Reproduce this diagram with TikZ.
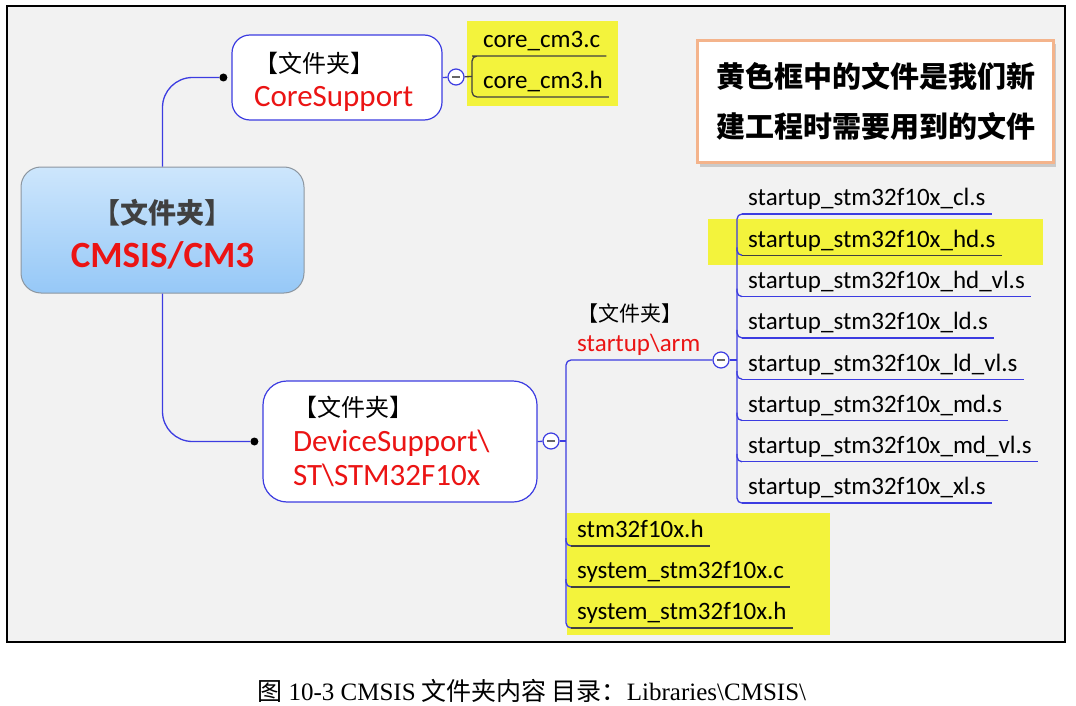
\documentclass[tikz,border=0pt]{standalone}
\usepackage{fontspec}
\setmainfont{Carlito}
\newfontfamily\cjkfont{Noto Sans CJK SC}
\newfontfamily\capfont{Liberation Serif}
\usetikzlibrary{positioning, calc, shadows}
\definecolor{mapblue}{RGB}{60, 60, 225}
\definecolor{mapred}{RGB}{235, 20, 20}
\definecolor{markyellow}{RGB}{243, 243, 60}
\definecolor{rootbottom}{RGB}{150, 200, 247}
\definecolor{roottop}{RGB}{205, 230, 252}
\definecolor{rootedge}{RGB}{140, 150, 160}
\definecolor{notepeach}{RGB}{244, 180, 140}
\definecolor{paper}{RGB}{242, 242, 242}

\begin{document}
\begin{tikzpicture}[x=1pt, y=-1pt,
  conn/.style={draw=mapblue, line width=1.3pt},
  darkconn/.style={draw=black!75, line width=1.3pt},
  folder/.style={draw=mapblue, line width=1.2pt, fill=white, align=left, inner ysep=0pt},
  fileitem/.style={anchor=south west, inner xsep=6pt, inner ysep=2pt, text height=19pt, text depth=6pt, font=\fontsize{25}{30}\selectfont},
  fold/.style={circle, draw=mapblue, line width=1.2pt, fill=white, minimum size=16pt, inner sep=0pt,
    path picture={\draw[black!60, line width=1.2pt] ([xshift=-4pt]path picture bounding box.center) -- ([xshift=4pt]path picture bounding box.center);}},
  knot/.style={circle, fill=black, minimum size=8pt, inner sep=0pt}
]
  \useasboundingbox (0,0) rectangle (1076,706);
  \fill[white] (0,0) rectangle (1076,706);
  \draw[line width=2.5pt, fill=paper] (7,6) rectangle (1065,642);

  % Yellow marks
  \fill[markyellow] (467,21) rectangle (618,106);
  \fill[markyellow] (708,219) rectangle (1043,265);
  \fill[markyellow] (567,513) rectangle (830,635);

  % Root
  \node[draw=rootedge, line width=1pt, top color=roottop, bottom color=rootbottom, rounded corners=20pt,
        minimum width=283pt, minimum height=126pt, align=center, font=\fontsize{37}{39}\selectfont\bfseries]
    (root) at (162.5,230) {\rule{0pt}{32pt}{\cjkfont\fontsize{28}{39}\selectfont\color{black!75}【文件夹】}\\[5pt]\textcolor{mapred}{CMSIS/CM3}};

  % Folder nodes
  \node[folder, rounded corners=18pt, text width=166pt, inner xsep=22pt, minimum height=85pt, font=\fontsize{31}{34}\selectfont]
    (core) at (337,77.5) {\rule{0pt}{29pt}{\cjkfont\fontsize{24}{34}\selectfont 【文件夹】}\\\textcolor{mapred}{CoreSupport}};
  \node[folder, rounded corners=24pt, text width=214pt, inner xsep=30pt, minimum height=121pt, font=\fontsize{31}{34.5}\selectfont]
    (dev) at (400,441.5) {{\cjkfont\fontsize{24}{34.5}\selectfont 【文件夹】}\\\textcolor{mapred}{DeviceSupport\textbackslash}\\\textcolor{mapred}{ST\textbackslash STM32F10x}};

  \node[knot] (coreknot) at ([xshift=-8pt]core.west) {};
  \node[knot] (devknot) at ([xshift=-8pt]dev.west) {};
  \draw[conn, rounded corners=30pt] (root.north) |- (coreknot);
  \draw[conn, rounded corners=30pt] (root.south) |- (devknot);

  % Note
  \node[draw=notepeach, line width=3pt, fill=white, drop shadow={opacity=0.35, shadow xshift=2pt, shadow yshift=-4pt},
        minimum width=356pt, minimum height=122pt, align=center, font=\cjkfont\bfseries\fontsize{29}{50}\selectfont]
    (note) at (875.5,101.5) {黄色框中的文件是我们新\\建工程时需要用到的文件};

  % CoreSupport files
  \node[fileitem] (c3c) at (477,56) {core\_cm3.c};
  \node[fileitem] (c3h) at (477,97) {core\_cm3.h};
  \node[fold] (corefold) at (456,77) {};
  \coordinate (corespine) at ($(c3c.south west)!0.5!(c3h.south west)+(-5,0)$);
  \draw[conn] (core.east) -- (corefold);
  \draw[darkconn] (corefold) -- (corespine);
  \draw[darkconn, rounded corners=5pt] (c3c.south east) -- (c3c.south west) -| ($(c3h.south west)+(-5,0)$) -- (c3h.south east);

  % DeviceSupport files
  \node[fileitem] (stmh) at (571,546) {stm32f10x.h};
  \node[fileitem] (sysc) at (571,587) {system\_stm32f10x.c};
  \node[fileitem] (sysh) at (571,628) {system\_stm32f10x.h};
  \node[fileitem, align=left, text height=, text depth=, font=\fontsize{25}{30}\selectfont]
    (arm) at (571,358) {{\cjkfont\fontsize{21}{30}\selectfont 【文件夹】}\\\textcolor{mapred}{startup\textbackslash arm}};
  \node[fold] (devfold) at (551,441) {};
  \node[fold] (armfold) at (721,360) {};
  \coordinate (devspine) at ($(devfold -| sysh.south west)+(-5,0)$);
  \draw[conn] (dev.east) -- (devfold);
  \draw[conn] (devfold) -- (devspine);
  \draw[conn, rounded corners=5pt] (armfold.west) -| ($(sysh.south west)+(-5,0)$) -- (sysh.south west);
  \foreach \nm in {stmh, sysc}
    \draw[conn, rounded corners=5pt] ($(\nm.south west)+(-5,-8)$) |- (\nm.south west);
  \foreach \nm in {stmh, sysc, sysh}
    \draw[darkconn] (\nm.south west) -- (\nm.south east);

  % startup files
  \foreach \nm/\txt [count=\i from 0] in {cl/cl, hd/hd, hdvl/hd\_vl, ld/ld, ldvl/ld\_vl, md/md, mdvl/md\_vl, xl/xl}
    \node[fileitem] (\nm) at (742,214+41.3*\i) {startup\_stm32f10x\_\txt.s};
  \coordinate (armspine) at ($(armfold -| cl.south west)+(-5,0)$);
  \draw[conn] (armfold) -- (armspine);
  \draw[conn, rounded corners=5pt] (cl.south west) -| ($(xl.south west)+(-5,0)$) -- (xl.south west);
  \foreach \nm in {hd, hdvl, ld, ldvl, md, mdvl}
    \draw[conn, rounded corners=5pt] ($(\nm.south west)+(-5,-8)$) |- (\nm.south west);
  \foreach \nm in {cl, hdvl, ld, ldvl, md, mdvl, xl}
    \draw[conn] (\nm.south west) -- (\nm.south east);
  \draw[darkconn] (hd.south west) -- (hd.south east);

  % Caption
  \node[font=\fontsize{25}{30}\selectfont] (caption) at (532,691)
    {{\cjkfont 图} {\capfont 10-3 CMSIS} {\cjkfont 文件夹内容\ 目录：}{\capfont Libraries\textbackslash CMSIS\textbackslash}};
\end{tikzpicture}
\end{document}
